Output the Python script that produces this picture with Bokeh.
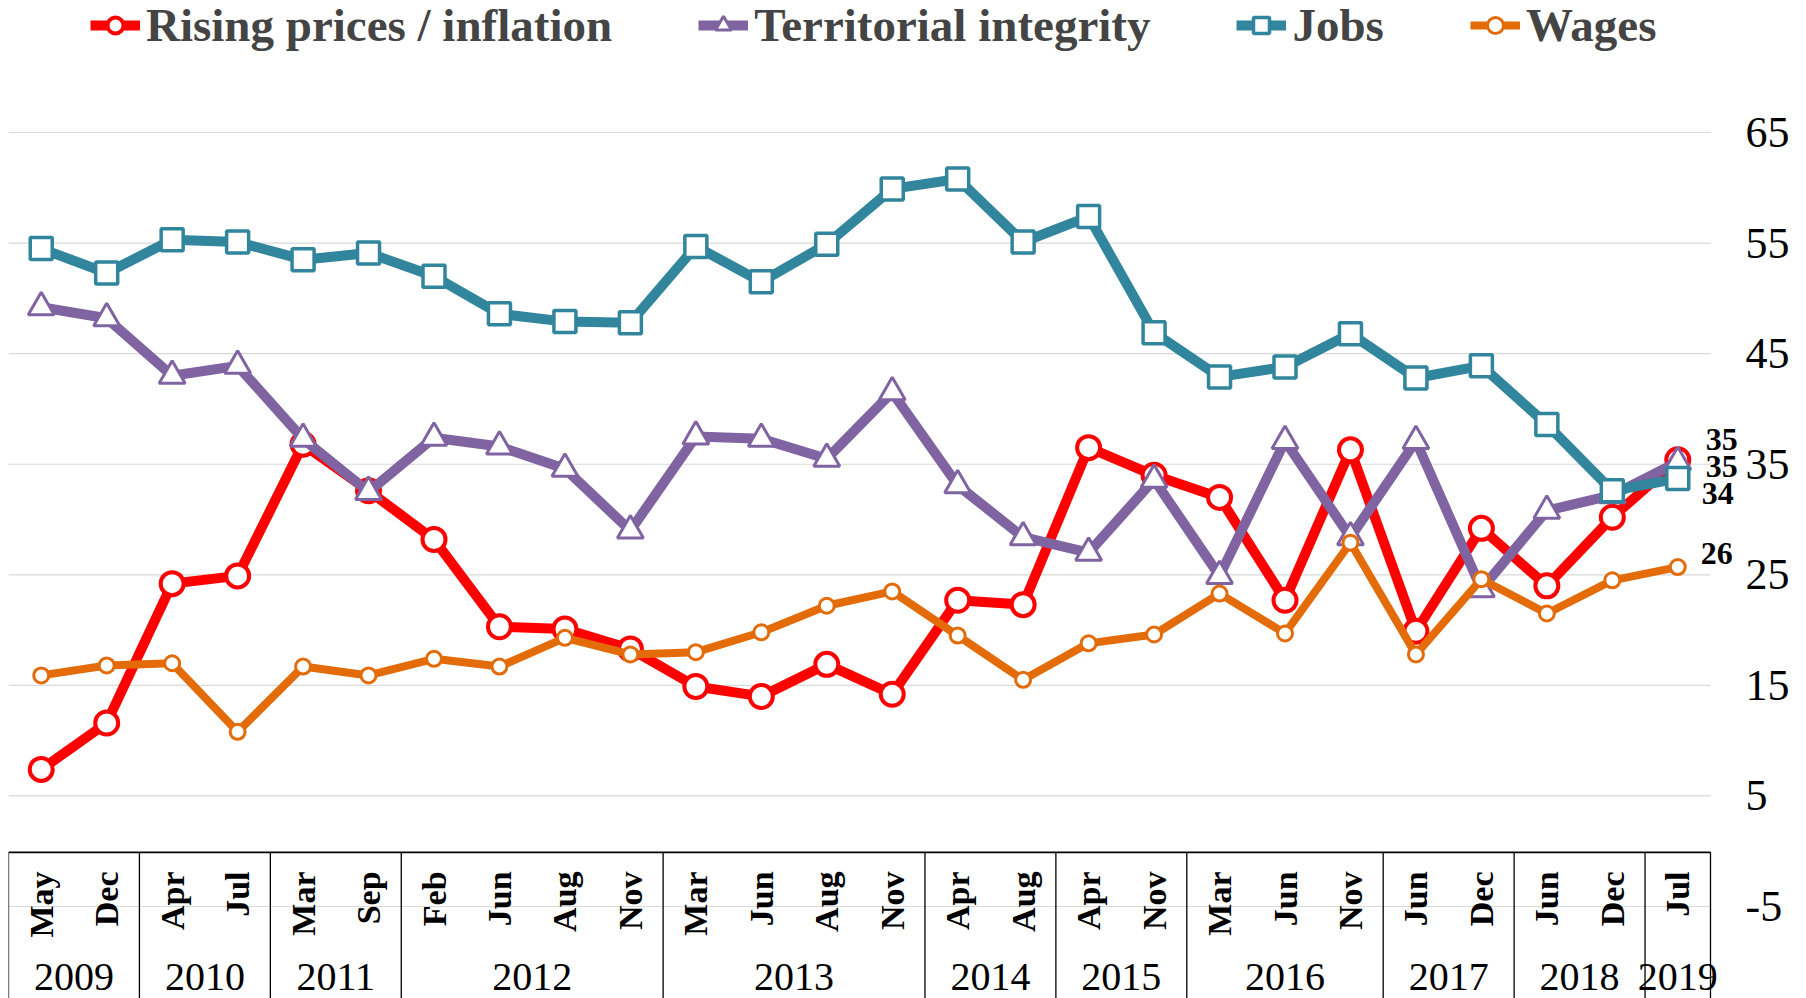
from math import pi
from bokeh.plotting import figure
from bokeh.models import (Range1d, FixedTicker, Legend, LegendItem, ColumnDataSource,
                          Label, PrintfTickFormatter)
from bokeh.core.properties import value
from bokeh.embed import file_html
from bokeh.resources import INLINE

# ---------------- data ----------------
months = ["May", "Dec", "Apr", "Jul", "Mar", "Sep", "Feb", "Jun", "Aug", "Nov",
          "Mar", "Jun", "Aug", "Nov", "Apr", "Aug", "Apr", "Nov", "Mar", "Jun",
          "Nov", "Jun", "Dec", "Jun", "Dec", "Jul"]
years = ["2009", "2009", "2010", "2010", "2011", "2011", "2012", "2012", "2012", "2012",
         "2013", "2013", "2013", "2013", "2014", "2014", "2015", "2015", "2016", "2016",
         "2016", "2017", "2017", "2018", "2018", "2019"]

rising = [7.4, 11.6, 24.2, 24.9, 36.8, 32.6, 28.2, 20.3, 20.1, 18.3, 14.9, 14.0, 16.9,
          14.2, 22.7, 22.3, 36.5, 34.0, 32.0, 22.7, 36.3, 19.9, 29.2, 24.0, 30.2, 35.4]
territorial = [49.2, 48.2, 43.0, 43.9, 37.3, 32.5, 37.4, 36.6, 34.6, 29.0, 37.5, 37.3, 35.5,
               41.5, 33.1, 28.4, 27.0, 33.6, 24.9, 37.1, 28.4, 37.1, 23.7, 30.8, 32.2, 35.2]
jobs = [54.5, 52.3, 55.3, 55.1, 53.5, 54.1, 52.0, 48.6, 47.9, 47.8, 54.7, 51.5, 54.9,
        59.9, 60.8, 55.1, 57.4, 46.9, 42.9, 43.8, 46.8, 42.8, 43.9, 38.6, 32.6, 33.7]
wages = [15.9, 16.8, 17.0, 10.8, 16.7, 15.9, 17.4, 16.7, 19.3, 17.8, 18.0, 19.8, 22.2,
         23.5, 19.5, 15.5, 18.8, 19.6, 23.3, 19.7, 27.9, 17.8, 24.6, 21.5, 24.5, 25.7]

series_names = ["Rising prices / inflation", "Territorial integrity", "Jobs", "Wages"]
y_ticks = [-5, 5, 15, 25, 35, 45, 55, 65]

# ---------------- styles ----------------
colors = ["#FF0000", "#8064A2", "#31859C", "#E36C09"]
markers = ["circle", "triangle", "square", "circle"]
marker_sizes = [23, 26, 22, 15]
marker_lw = [4, 3, 3.5, 3]
line_widths = [10, 10, 10, 8]
label_dx = [28, 28, 24, 23]
label_dy = [20, -4, -15, 14]

SERIF = "Liberation Serif"
n = len(months)
xs = list(range(n))
UNIT = 1702 / n          # pixels per category (frame part holding the categories)
EXTRA = 35               # extra frame room on the right for the end labels (px)

p = figure(width=1806, height=998, output_backend="svg", toolbar_location=None,
           x_range=Range1d(-0.5, n - 0.5 + EXTRA / UNIT), y_range=Range1d(-13.32, 76.94),
           x_axis_location=None, y_axis_location="right",
           min_border_left=8, min_border_right=61, min_border_top=0, min_border_bottom=0)
p.outline_line_color = None
p.background_fill_color = "white"
p.border_fill_color = "white"
p.xgrid.visible = False
p.ygrid.visible = False

ticker = FixedTicker(ticks=y_ticks)
p.yaxis.ticker = ticker
p.yaxis.formatter = PrintfTickFormatter(format="%d")
p.yaxis.axis_line_color = None
p.yaxis.major_tick_line_color = None
p.yaxis.minor_tick_line_color = None
p.yaxis.major_tick_out = 0
p.yaxis.major_tick_in = 0
p.yaxis.major_label_standoff = 0
p.yaxis.major_label_text_font = SERIF
p.yaxis.major_label_text_font_size = "44px"
p.yaxis.major_label_text_color = "black"

# horizontal gridlines, limited to the category area
p.segment(x0=[-0.5] * len(y_ticks), y0=y_ticks, x1=[n - 0.5] * len(y_ticks), y1=y_ticks,
          line_color="#D9D9D9", line_width=1.2)

# ---------------- category box (axis decoration) ----------------
y0 = p.y_range.start
box_top = -0.1
bounds = [-0.5] + [i - 0.5 for i in range(1, n) if years[i] != years[i - 1]] + [n - 0.5]
p.segment(x0=[-0.5], y0=[box_top], x1=[n - 0.5], y1=[box_top], line_color="black", line_width=1.6)
p.segment(x0=bounds, y0=[y0] * len(bounds), x1=bounds, y1=[box_top] * len(bounds),
          line_color="black", line_width=1.3)

p.text(x=xs, y=[-1.83] * n, text=months, angle=pi / 2, text_align="right",
       text_baseline="middle", text_font=value(SERIF), text_font_style="bold",
       text_font_size="34px", text_color="black")

year_names = []
year_pos = []
for yv in years:
    if yv not in year_names:
        year_names.append(yv)
for yv in year_names:
    idx = [i for i in xs if years[i] == yv]
    year_pos.append(sum(idx) / len(idx))
p.text(x=year_pos, y=[-11.4] * len(year_pos), text=year_names, text_align="center",
       text_baseline="middle", text_font=value(SERIF), text_font_size="40px",
       text_color="black")

# ---------------- series ----------------
src = ColumnDataSource(dict(x=xs, rising=rising, territorial=territorial, jobs=jobs, wages=wages))
keys = ["rising", "territorial", "jobs", "wages"]
items = []
for k, name, c, m, ms, mlw, lw in zip(keys, series_names, colors, markers, marker_sizes,
                                      marker_lw, line_widths):
    ln = p.line("x", k, source=src, line_color=c, line_width=lw, line_join="round")
    sc = p.scatter("x", k, source=src, marker=m, size=ms, line_color=c, line_width=mlw,
                   fill_color="white")
    items.append(LegendItem(label=name, renderers=[ln, sc]))

# last-value labels
last_vals = [rising[-1], territorial[-1], jobs[-1], wages[-1]]
for v, dx, dy in zip(last_vals, label_dx, label_dy):
    p.add_layout(Label(x=n - 1, y=v, text=str(round(v)), x_offset=dx, y_offset=dy,
                       text_align="left", text_baseline="middle", text_font=SERIF,
                       text_font_style="bold", text_font_size="32px", text_color="black"))

legend = Legend(items=items, orientation="horizontal", location=(82, 946),
                label_text_font=SERIF, label_text_font_style="bold",
                label_text_font_size="47px", glyph_width=50, glyph_height=40,
                label_standoff=6, spacing=86, padding=0, margin=0,
                border_line_color=None, background_fill_alpha=0)
p.add_layout(legend)

open("out.html", "w").write(file_html(p, INLINE))
